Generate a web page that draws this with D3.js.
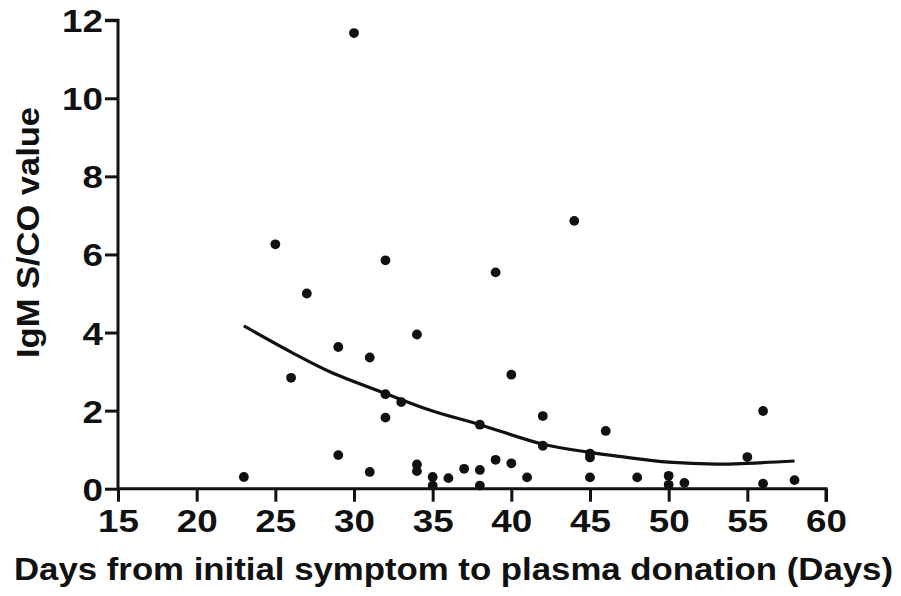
<!DOCTYPE html>
<html>
<head>
<meta charset="utf-8">
<script src="https://cdn.jsdelivr.net/npm/d3@7/dist/d3.min.js"></script>
<style>
  html, body { margin: 0; padding: 0; background: #fff; }
  svg text { font-family: "Liberation Sans", Arial, sans-serif; font-weight: bold; fill: #111; }
</style>
</head>
<body>
<svg id="chart" width="901" height="596"></svg>
<script>
// Scatter data: days from initial symptom, IgM S/CO value
const days = [23, 25, 26, 27, 29, 29, 30, 31, 31, 32, 32, 32, 33, 34, 34, 34, 35, 35, 36, 37,
              38, 38, 38, 39, 39, 40, 40, 41, 42, 42, 44, 45, 45, 45, 46, 48, 50, 50, 51, 55,
              56, 56, 58];
const igm  = [0.30, 6.26, 2.84, 5.00, 3.63, 0.86, 11.67, 3.36, 0.43, 5.85, 2.42, 1.82, 2.22, 3.95, 0.62, 0.45, 0.30, 0.08, 0.27, 0.51,
              1.64, 0.48, 0.08, 5.54, 0.74, 2.92, 0.65, 0.29, 1.86, 1.10, 6.86, 0.90, 0.80, 0.29, 1.48, 0.29, 0.33, 0.10, 0.15, 0.81,
              1.99, 0.13, 0.22];

// Fitted trend curve
const curveDays = [23, 26, 28.5, 32, 34.85, 38, 42, 45, 47, 50, 53, 55, 58];
const curveIgm  = [4.17, 3.50, 2.99, 2.44, 2.01, 1.64, 1.14, 0.93, 0.82, 0.68, 0.63, 0.65, 0.71];

const xTicks = [15, 20, 25, 30, 35, 40, 45, 50, 55, 60];
const yTicks = [0, 2, 4, 6, 8, 10, 12];

const xTitle = "Days from initial symptom to plasma donation (Days)";
const yTitle = "IgM S/CO value";

const svg = d3.select("#chart");
const x = d3.scaleLinear().domain([15, 60]).range([118, 826]);
const y = d3.scaleLinear().domain([0, 12]).range([488.7, 20.2]);

const ink = "#111";
const fontFam = '"Liberation Sans", Arial, sans-serif';

// Y axis
const yAxis = svg.append("g")
  .attr("transform", `translate(${x(15)},0)`)
  .call(d3.axisLeft(y).tickValues(yTicks).tickSize(13).tickPadding(3).tickFormat(d3.format("d")));
yAxis.select(".domain").attr("stroke", ink).attr("stroke-width", 3).attr("d", `M-13,${y(12)}H0V${y(0)}`);
yAxis.selectAll(".tick line").attr("stroke", ink).attr("stroke-width", 3);
yAxis.selectAll(".tick text")
  .attr("x", 0).attr("dy", "0.36em")
  .attr("transform", "translate(-15,0) scale(1.15,1)")
  .attr("font-size", 32).attr("fill", ink)
  .style("font-family", fontFam).style("font-weight", "bold");

// X axis
const xAxis = svg.append("g")
  .attr("transform", `translate(0,${y(0)})`)
  .call(d3.axisBottom(x).tickValues(xTicks).tickSize(13).tickPadding(8).tickFormat(d3.format("d")));
xAxis.select(".domain").attr("stroke", ink).attr("stroke-width", 3).attr("d", `M${x(15)},0H${x(60)}V13`);
xAxis.selectAll(".tick line").attr("stroke", ink).attr("stroke-width", 3);
xAxis.selectAll(".tick text")
  .attr("transform", "scale(1.15,1)")
  .attr("font-size", 32).attr("fill", ink)
  .style("font-family", fontFam).style("font-weight", "bold");

// Trend curve
const curvePts = curveDays.map((d, i) => [d, curveIgm[i]]);
svg.append("path")
  .datum(curvePts)
  .attr("fill", "none")
  .attr("stroke", ink)
  .attr("stroke-width", 3.2)
  .attr("d", d3.line().x(d => x(d[0])).y(d => y(d[1])).curve(d3.curveCatmullRom));

// Points
svg.append("g").selectAll("circle")
  .data(days.map((d, i) => [d, igm[i]]))
  .join("circle")
  .attr("cx", d => x(d[0]))
  .attr("cy", d => y(d[1]))
  .attr("r", 4.9)
  .attr("fill", ink);

// Titles
svg.append("text")
  .attr("x", 14).attr("y", 580)
  .attr("textLength", 879).attr("lengthAdjust", "spacingAndGlyphs")
  .attr("font-size", 32)
  .text(xTitle);

svg.append("text")
  .attr("transform", `translate(39,358) rotate(-90)`)
  .attr("textLength", 251).attr("lengthAdjust", "spacingAndGlyphs")
  .attr("font-size", 32)
  .text(yTitle);
</script>
</body>
</html>
